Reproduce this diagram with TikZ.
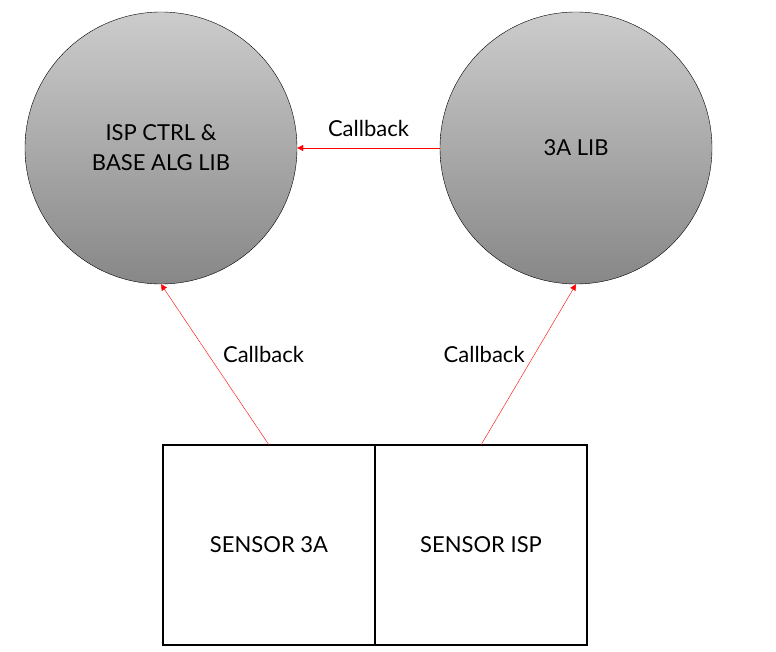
\documentclass[tikz,border=0pt]{standalone}
\usepackage{fontspec}
\setmainfont{Lato}
\usetikzlibrary{arrows.meta, positioning}

\begin{document}
\begin{tikzpicture}[x=1pt, y=-1pt, font=\fontsize{22}{30}\selectfont,
    ball/.style={circle, draw, thin, minimum size=272pt, inner sep=0pt, align=center,
        top color=black!20, bottom color=black!47},
    box/.style={rectangle, draw, line width=1.2pt, minimum width=212pt, minimum height=200pt, outer sep=0pt},
    cb/.style={red, -{Triangle[length=6pt, width=6pt]}}]
        \useasboundingbox (0,0) rectangle (776,652);
        \node[ball] (ctrl) at (161,148) {ISP CTRL \&\\BASE ALG LIB};
        \node[ball] (lib) at (576,148) {3A LIB};
        \node[box] (s3a) at (269,545) {SENSOR 3A};
        \node[box, right=0pt of s3a] (sisp) {SENSOR ISP};
        \draw[cb] (lib.west) -- (ctrl.east) node[midway, above=8pt, black] {Callback};
        \draw[cb] (s3a.north) -- (ctrl.south) node[pos=0.56, right=11pt, black] {Callback};
        \draw[cb] (sisp.north) -- (lib.south) node[pos=0.56, left=6pt, black] {Callback};
    \end{tikzpicture}
\end{document}
